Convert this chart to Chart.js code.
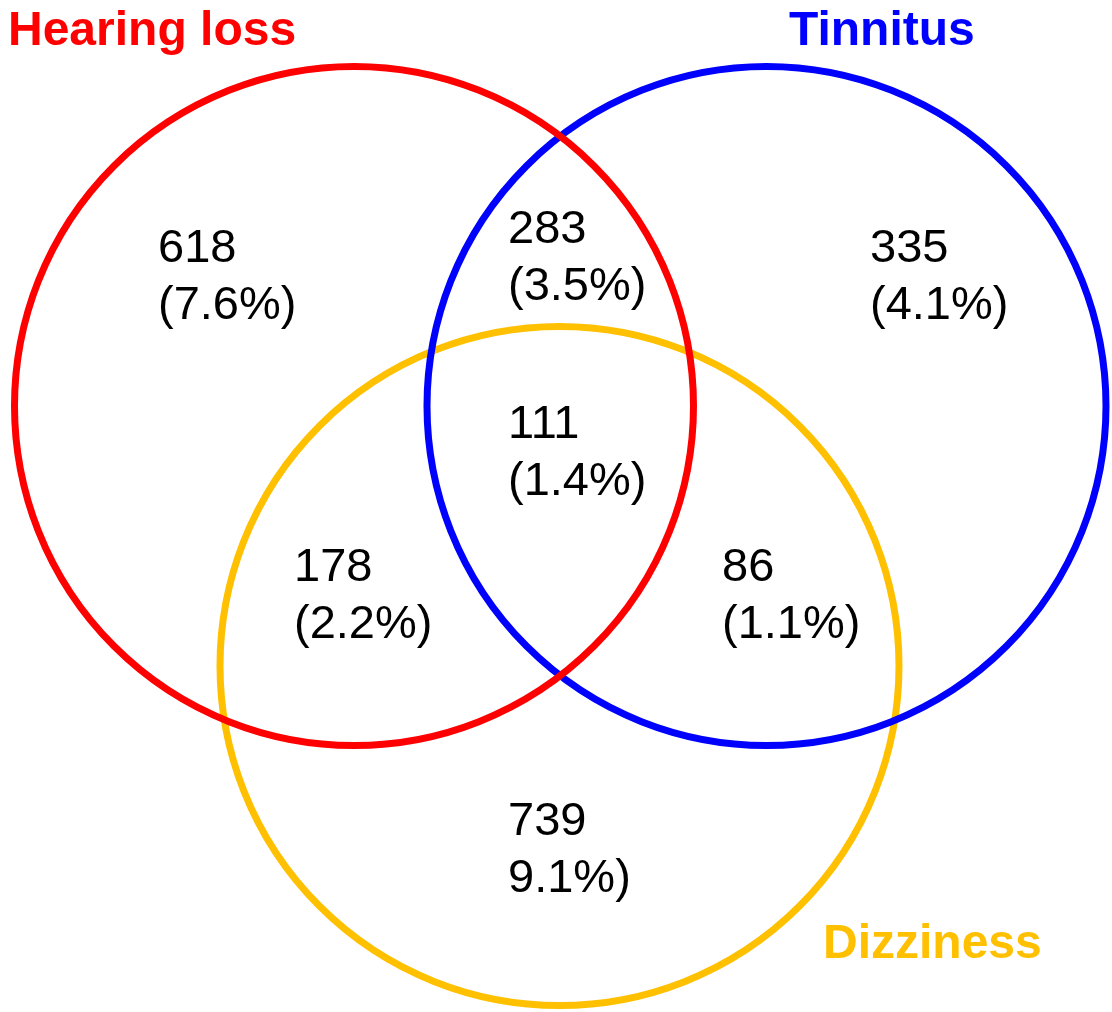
<!DOCTYPE html>
<html>
<head>
<meta charset="utf-8">
<script src="https://cdn.jsdelivr.net/npm/chart.js@4"></script>
<style>
  html, body { margin: 0; padding: 0; background: #ffffff; }
  #wrap { width: 1112px; height: 1012px; position: relative; }
</style>
</head>
<body>
<div id="wrap"><canvas id="c"></canvas></div>
<script>
// ---- Data ----
const setNames   = ["Hearing loss", "Tinnitus", "Dizziness"];
const setColors  = ["#ff0000", "#0000ff", "#ffc000"];
// Venn circle geometry (in chart units)
const circleX    = [354, 766.5, 559.5];
const circleY    = [406, 406, 666];
const circleR    = [339.5, 339.5, 339.5];
// Region counts and shares
const regionNames    = ["Hearing only", "Hearing+Tinnitus", "Tinnitus only", "All three", "Hearing+Dizziness", "Tinnitus+Dizziness", "Dizziness only"];
const regionCounts   = ["618", "283", "335", "111", "178", "86", "739"];
const regionPercents = ["(7.6%)", "(3.5%)", "(4.1%)", "(1.4%)", "(2.2%)", "(1.1%)", "9.1%)"];

// ---- Layout (label anchors, chart units) ----
const regionLabelX = [158, 508, 870, 508, 294, 722, 508];
const regionLabelY = [262, 243, 262, 438, 581, 581, 835];
const setLabelX    = [8, 789, 823];
const setLabelY    = [45, 45, 958];

const labelPlugin = {
  id: "vennLabels",
  afterDatasetsDraw(chart) {
    const { ctx, scales: { x, y } } = chart;
    ctx.save();
    ctx.textBaseline = "alphabetic";
    ctx.textAlign = "left";
    ctx.fillStyle = "#000000";
    ctx.font = "47px 'Liberation Sans', Arial, sans-serif";
    for (let i = 0; i < regionCounts.length; i++) {
      const px = x.getPixelForValue(regionLabelX[i]);
      const py = y.getPixelForValue(regionLabelY[i]);
      ctx.fillText(regionCounts[i], px, py);
      ctx.fillText(regionPercents[i], px, py + 57);
    }
    ctx.font = "bold 48px 'Liberation Sans', Arial, sans-serif";
    for (let i = 0; i < setNames.length; i++) {
      ctx.fillStyle = setColors[i];
      ctx.fillText(setNames[i], x.getPixelForValue(setLabelX[i]), y.getPixelForValue(setLabelY[i]));
    }
    ctx.restore();
  }
};

const radiusFor = (i) => (ctx) => {
  const sx = ctx.chart.scales.x;
  return sx.getPixelForValue(circleR[i]) - sx.getPixelForValue(0);
};

const datasets = setNames.map((name, i) => ({
  label: name,
  data: [{ x: circleX[i], y: circleY[i] }],
  showLine: false,
  backgroundColor: "rgba(0,0,0,0)",
  borderColor: setColors[i],
  borderWidth: 7,
  pointRadius: radiusFor(i),
  pointHoverRadius: radiusFor(i),
  pointBorderWidth: 7,
  pointBackgroundColor: "rgba(0,0,0,0)",
  pointBorderColor: setColors[i],
  clip: false
}));

new Chart(document.getElementById("c"), {
  type: "scatter",
  data: { datasets },
  options: {
    responsive: true,
    maintainAspectRatio: false,
    animation: false,
    events: [],
    layout: { padding: 0 },
    plugins: { legend: { display: false }, tooltip: { enabled: false }, title: { display: false } },
    scales: {
      x: { type: "linear", min: 0, max: 1112, display: false },
      y: { type: "linear", min: 0, max: 1012, reverse: true, display: false }
    }
  },
  plugins: [labelPlugin]
});
</script>
</body>
</html>
